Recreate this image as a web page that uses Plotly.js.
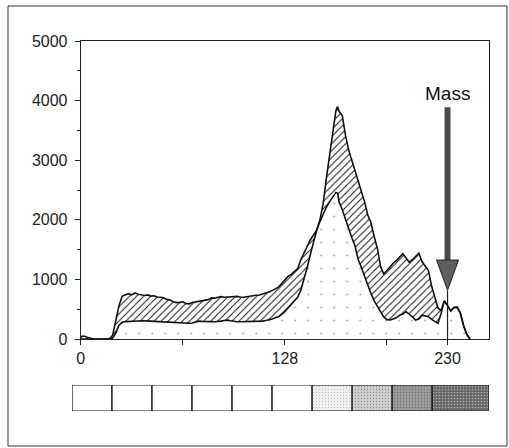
<!DOCTYPE html>
<html><head><meta charset="utf-8">
<script src="https://cdn.plot.ly/plotly-3.0.1.min.js"></script>
<style>html,body{margin:0;padding:0;background:#fff}</style>
</head><body><div id="chart" style="width:509px;height:448px"></div>
<script>
// Pixel intensity (x) and counts (y) for the two histogram envelopes
const intensity = [0,2,4,6,8,10,12,14,16,18,20,22,24,26,28,30,32,34,36,38,40,42,44,46,48,50,52,54,56,58,60,62,64,66,68,70,72,74,76,78,80,82,84,86,88,90,92,94,96,98,100,102,104,106,108,110,112,114,116,118,120,122,124,126,128,130,132,134,136,138,140,142,144,146,148,150,152,154,156,158,160,161,162,164,166,168,170,172,174,176,178,180,182,184,186,188,190,192,194,196,198,200,202,204,206,208,210,212,214,216,218,220,222,224,226,228,230,232,234,236,238,240,242,244];
const upperCounts = [40,50,30,10,0,0,0,0,0,5,60,300,560,720,745,760,740,775,750,745,730,740,720,725,705,700,690,665,655,625,610,615,625,595,590,612,620,630,640,645,660,690,685,700,710,700,705,715,710,715,705,700,708,720,728,735,738,752,765,790,812,840,870,930,990,1050,1085,1125,1180,1330,1450,1560,1665,1745,1830,2000,2270,2690,3100,3500,3830,3900,3820,3750,3420,3170,3000,2800,2640,2450,2300,2080,1950,1720,1520,1220,1090,1150,1215,1275,1320,1375,1430,1360,1285,1330,1390,1440,1300,1230,1150,890,700,520,480,640,560,470,530,535,440,230,80,0];
const lowerCounts = [0,0,0,0,0,0,0,0,0,0,15,100,230,280,292,298,300,305,303,306,307,303,300,296,292,290,287,284,280,277,274,270,266,264,263,268,280,300,295,290,290,292,290,292,300,310,316,305,295,290,290,292,290,290,292,290,292,300,310,318,335,355,374,415,458,520,575,630,700,820,1000,1200,1420,1620,1827,1970,2100,2210,2300,2390,2460,2450,2300,2170,2000,1830,1700,1560,1330,1200,1045,880,760,640,550,460,370,325,318,335,360,400,420,458,420,370,318,335,400,390,374,330,290,263,430,640,560,470,530,535,440,230,80,0];

const yTickVals = [0,1000,2000,3000,4000,5000];
const xTickVals = [0,64,128,192,230];
const xTickText = ['0','','128','','230'];
const massX = 230;
const massLabel = 'Mass';

// Grey-level strip: bin edges and shade level of each bin
const stripEdges = [0,1,2,3,4,5,6,7,8,9,10.42];
const stripLevels = [0,0,0,0,0,0,1,2,3,4];

// ---- styling / construction ----
const shadeColor = ['#ffffff','#f0f0f0','#d0d0d0','#9c9c9c','#646464'];
const shadeSol = [0,0.08,0.15,0.2,0.25];
const shadeShape = ['','.','.','.','.'];

const stripX = [], stripW = [], stripY = [];
for (let i = 0; i < stripLevels.length; i++) {
  stripX.push((stripEdges[i] + stripEdges[i+1]) / 2);
  stripW.push(stripEdges[i+1] - stripEdges[i]);
  stripY.push(1);
}

const traces = [
  {x: intensity, y: lowerCounts, type: 'scatter', mode: 'lines',
   line: {color: '#111', width: 1.6}, fill: 'tozeroy', fillcolor: '#ffffff',
   fillpattern: {shape: '.', fgcolor: '#9a9a9a', bgcolor: '#ffffff', size: 13, solidity: 0.015},
   hoverinfo: 'skip'},
  {x: intensity, y: upperCounts, type: 'scatter', mode: 'lines',
   line: {color: '#111', width: 1.6}, fill: 'tonexty', fillcolor: '#ffffff',
   fillpattern: {shape: '/', fgcolor: '#111', bgcolor: '#ffffff', size: 5, solidity: 0.2},
   hoverinfo: 'skip'},
  {x: stripX, y: stripY, width: stripW, base: 0, type: 'bar', xaxis: 'x2', yaxis: 'y2',
   cliponaxis: false,
   marker: {color: stripLevels.map(l => shadeColor[l]),
            line: {color: '#111', width: 1.2},
            pattern: {shape: stripLevels.map(l => shadeShape[l]), fillmode: 'overlay',
                      fgcolor: '#333', size: 3, solidity: stripLevels.map(l => shadeSol[l])}},
   hoverinfo: 'skip'}
];

const arrowTop = 3890, headTop = 1325, headTip = 820, headHalf = 6.9;

const layout = {
  width: 509, height: 448,
  margin: {l: 72, r: 20, t: 41, b: 37},
  paper_bgcolor: '#fff', plot_bgcolor: '#fff',
  font: {family: 'Liberation Sans, Arial, sans-serif', size: 16, color: '#222'},
  showlegend: false,
  xaxis: {domain: [0.0209, 1], range: [0, 256], tickvals: xTickVals, ticktext: xTickText,
          ticks: 'outside', ticklen: 5, tickcolor: '#222', showline: true, mirror: true,
          linecolor: '#222', linewidth: 1, showgrid: false, zeroline: false, anchor: 'y'},
  yaxis: {domain: [0.1946, 1], range: [0, 5000], tickvals: yTickVals,
          ticks: 'outside', ticklen: 5, tickcolor: '#222',
          minor: {dtick: 500, tick0: 0, ticks: 'outside', ticklen: 3, tickcolor: '#222'},
          showline: true, mirror: true, linecolor: '#222', linewidth: 1,
          showgrid: false, zeroline: false, anchor: 'x', ticklabelstandoff: 4},
  xaxis2: {domain: [0, 1], range: [0, 10.42], visible: false, anchor: 'y2'},
  yaxis2: {domain: [0, 0.0703], range: [0, 1], visible: false, anchor: 'x2'},
  shapes: [
    {type: 'rect', xref: 'paper', yref: 'paper', x0: -0.1535, x1: 1.0432, y0: -0.0946, y1: 1.0946,
     line: {color: '#333', width: 1}},
    {type: 'line', xref: 'x', yref: 'y', x0: massX, x1: massX, y0: headTip, y1: 0,
     line: {color: '#222', width: 1.2}},
    {type: 'line', xref: 'x', yref: 'y', x0: massX, x1: massX, y0: arrowTop, y1: headTop,
     line: {color: '#4a4a4a', width: 6}},
    {type: 'path', xref: 'x', yref: 'y',
     path: `M ${massX - headHalf},${headTop} L ${massX + headHalf},${headTop} L ${massX},${headTip} Z`,
     fillcolor: '#5e5e5e', line: {color: '#222', width: 1}}
  ],
  annotations: [
    {x: massX, y: 4125, xref: 'x', yref: 'y', text: massLabel, showarrow: false,
     font: {size: 19, color: '#111'}, xanchor: 'center', yanchor: 'middle'}
  ]
};

Plotly.newPlot('chart', traces, layout, {displayModeBar: false, staticPlot: true});
</script>
</body></html>
